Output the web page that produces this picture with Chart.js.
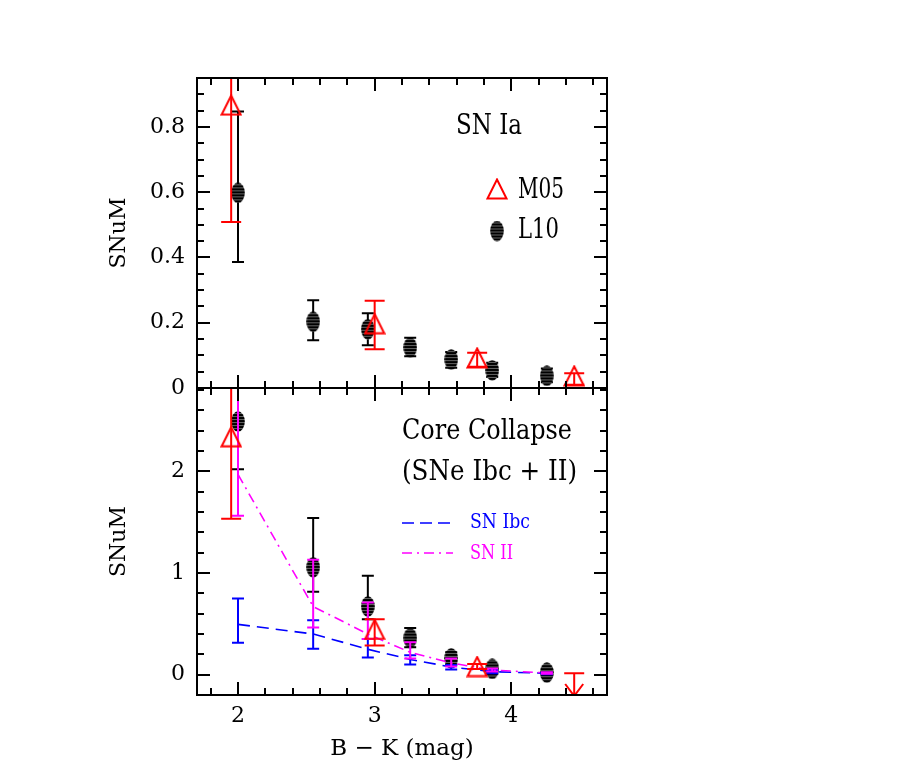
<!DOCTYPE html>
<html>
<head>
<meta charset="utf-8">
<script src="https://cdn.jsdelivr.net/npm/chart.js@4.4.0/dist/chart.umd.min.js"></script>
<style>
  html, body { margin: 0; padding: 0; background: #fff; }
  #wrap { position: relative; width: 911px; height: 771px; }
  canvas { position: absolute; left: 0; }
</style>
</head>
<body>
<div id="wrap">
  <canvas id="topPanel" width="911" height="402" style="top:0;width:911px;height:402px"></canvas>
  <canvas id="bottomPanel" width="911" height="383" style="top:388px;width:911px;height:383px"></canvas>
</div>
<script>
// B - K colour of the bins
const l10X = [2.0, 2.55, 2.95, 3.26, 3.56, 3.86, 4.26];
const m05X = [1.95, 3.0, 3.75, 4.46];

// SN Ia rates (SNuM)
const iaL10 = [0.598, 0.203, 0.18, 0.124, 0.087, 0.054, 0.037];
const iaL10Lo = [0.386, 0.146, 0.131, 0.097, 0.062, 0.034, 0.018];
const iaL10Hi = [0.847, 0.269, 0.229, 0.154, 0.11, 0.077, 0.06];
const iaM05 = [0.867, 0.197, 0.092, 0.037];
const iaM05Lo = [0.509, 0.119, 0.065, 0.01];
const iaM05Hi = [1.22, 0.267, 0.108, 0.045];

// core collapse rates (SNuM)
const ccL10 = [2.49, 1.056, 0.67, 0.36, 0.16, 0.056, 0.02];
const ccL10Lo = [2.02, 0.815, 0.545, 0.27, 0.1, 0.01, -0.02];
const ccL10Hi = [2.97, 1.54, 0.973, 0.46, 0.22, 0.1, 0.06];
const ccM05X = [1.95, 3.0, 3.75];
const ccM05 = [2.34, 0.445, 0.08];
const ccM05Lo = [1.535, 0.287, 0.055];
const ccM05Hi = [3.15, 0.545, 0.105];
const ccLimitX = [4.46];
const ccLimit = [0.015];
const ccLimitLo = [-0.21];

const ibc = [0.495, 0.40, 0.25, 0.15, 0.075, 0.03, 0.013];
const ibcLo = [0.314, 0.255, 0.17, 0.10, 0.05, 0.015, 0.005];
const ibcHi = [0.75, 0.535, 0.35, 0.19, 0.095, 0.045, 0.02];
const snII = [1.97, 0.67, 0.40, 0.22, 0.115, 0.045, 0.017];
const snIILo = [1.564, 0.465, 0.35, 0.16, 0.08, 0.03, 0.01];
const snIIHi = [3.0, 1.13, 0.71, 0.32, 0.16, 0.06, 0.025];

// ticks
const xTicks = [2, 3, 4];
const xLabels = ['2', '3', '4'];
const iaYTicks = [0, 0.2, 0.4, 0.6, 0.8];
const iaYLabels = ['0', '0.2', '0.4', '0.6', '0.8'];
const ccYTicks = [0, 1, 2];
const ccYLabels = ['0', '1', '2'];

const FONT = "'DejaVu Serif', serif";
const RED = '#ff0000', BLUE = '#0000ff', MAGENTA = '#ff00ff';

function pts(xs, ys) { return xs.map((x, i) => ({ x: x, y: ys[i] })); }

// marker images
function triangleImg() {
  const c = document.createElement('canvas');
  c.width = 22; c.height = 22;
  const g = c.getContext('2d');
  g.strokeStyle = RED; g.lineWidth = 2;
  g.beginPath();
  g.moveTo(11, 1.5); g.lineTo(20.5, 20.5); g.lineTo(1.5, 20.5); g.closePath();
  g.stroke();
  return c;
}
function ellipseImg() {
  const c = document.createElement('canvas');
  c.width = 14; c.height = 21;
  const g = c.getContext('2d');
  g.fillStyle = '#000';
  g.beginPath();
  g.ellipse(7, 10.5, 6.8, 10.3, 0, 0, Math.PI * 2);
  g.fill();
  g.globalCompositeOperation = 'source-atop';
  g.strokeStyle = 'rgba(255,255,255,0.4)';
  g.lineWidth = 1;
  for (let y = 2.5; y < 21; y += 3) {
    g.beginPath(); g.moveTo(0, y); g.lineTo(14, y); g.stroke();
  }
  return c;
}
const tri = triangleImg();
const ell = ellipseImg();

// vertical error bars, drawn under each dataset's markers
const errorBars = {
  id: 'errorBars',
  beforeDatasetDraw(chart, args) {
    const ds = chart.data.datasets[args.index];
    if (!ds.errLo) return;
    const ys = chart.scales.y;
    const a = chart.chartArea;
    const ctx = chart.ctx;
    ctx.save();
    ctx.beginPath();
    ctx.rect(a.left, a.top, a.right - a.left, a.bottom - a.top);
    ctx.clip();
    ctx.strokeStyle = ds.borderColor;
    ctx.lineWidth = 2;
    ctx.setLineDash([]);
    args.meta.data.forEach((pt, i) => {
      const x = pt.x;
      const lo = ys.getPixelForValue(ds.errLo[i]);
      const hi = ys.getPixelForValue(ds.errHi[i]);
      const c = ds.capHalf;
      ctx.beginPath();
      ctx.moveTo(x, lo); ctx.lineTo(x, hi);
      ctx.moveTo(x - c, hi); ctx.lineTo(x + c, hi);
      if (ds.arrow) {
        ctx.moveTo(x - 9, lo - 12); ctx.lineTo(x, lo); ctx.lineTo(x + 9, lo - 12);
      } else {
        ctx.moveTo(x - c, lo); ctx.lineTo(x + c, lo);
      }
      ctx.stroke();
    });
    ctx.restore();
  }
};

// box with inward ticks on all four sides
const frameTicks = {
  id: 'frameTicks',
  afterDraw(chart, args, o) {
    const ctx = chart.ctx, a = chart.chartArea;
    const xs = chart.scales.x, ys = chart.scales.y;
    ctx.save();
    ctx.strokeStyle = '#000';
    ctx.lineWidth = 2;
    ctx.strokeRect(a.left, a.top, a.right - a.left, a.bottom - a.top);
    ctx.beginPath();
    for (let v = Math.ceil(xs.min / o.xMinor - 1e-6) * o.xMinor; v <= xs.max + 1e-6; v += o.xMinor) {
      const major = Math.abs(v / o.xMajor - Math.round(v / o.xMajor)) < 1e-6;
      const len = major ? 13 : 7;
      const px = Math.round(xs.getPixelForValue(v));
      ctx.moveTo(px, a.bottom); ctx.lineTo(px, a.bottom - len);
      ctx.moveTo(px, a.top); ctx.lineTo(px, a.top + len);
    }
    for (let v = Math.ceil(ys.min / o.yMinor - 1e-6) * o.yMinor; v <= ys.max + 1e-6; v += o.yMinor) {
      const major = Math.abs(v / o.yMajor - Math.round(v / o.yMajor)) < 1e-6;
      const len = major ? 13 : 7;
      const py = Math.round(ys.getPixelForValue(v));
      ctx.moveTo(a.left, py); ctx.lineTo(a.left + len, py);
      ctx.moveTo(a.right, py); ctx.lineTo(a.right - len, py);
    }
    ctx.stroke();
    ctx.restore();
  }
};

// in-panel labels and key
const panelKey = {
  id: 'panelKey',
  afterDraw(chart, args, o) {
    const ctx = chart.ctx;
    ctx.save();
    ctx.textBaseline = 'middle';
    ctx.textAlign = 'left';
    (o.items || []).forEach(it => {
      if (it.img) ctx.drawImage(it.img, it.x - it.img.width / 2, it.y - it.img.height / 2);
      if (it.line) {
        ctx.strokeStyle = it.color; ctx.lineWidth = 1.6;
        ctx.setLineDash(it.dash);
        ctx.beginPath(); ctx.moveTo(it.x, it.y); ctx.lineTo(it.x + it.line, it.y); ctx.stroke();
        ctx.setLineDash([]);
      }
      if (it.text) {
        ctx.fillStyle = it.color || '#000';
        ctx.font = it.font;
        ctx.fillText(it.text, it.x, it.y, it.maxW);
      }
    });
    ctx.restore();
  }
};

// fixed axis sizes, no label overhang padding
function fixSize(w, h) {
  return s => {
    if (w !== null) s.width = w;
    if (h !== null) s.height = h;
    s.paddingTop = 0; s.paddingBottom = 0; s.paddingLeft = 0; s.paddingRight = 0;
  };
}

const baseX = {
  type: 'linear', min: 1.7, max: 4.7,
  grid: { display: false, drawTicks: false },
  border: { display: false }
};

new Chart(document.getElementById('topPanel'), {
  type: 'scatter',
  data: {
    datasets: [
      {
        label: 'M05', data: pts(m05X, iaM05), order: 0,
        errLo: iaM05Lo, errHi: iaM05Hi, capHalf: 10,
        borderColor: RED, pointStyle: tri, pointRadius: 10
      },
      {
        label: 'L10', data: pts(l10X, iaL10), order: 1,
        errLo: iaL10Lo, errHi: iaL10Hi, capHalf: 6,
        borderColor: '#000', pointStyle: ell, pointRadius: 8
      }
    ]
  },
  options: {
    responsive: false, animation: false, devicePixelRatio: 1,
    layout: { autoPadding: false, padding: { left: 102, right: 304, top: 78, bottom: 14 } },
    scales: {
      x: Object.assign({}, baseX, { display: false, afterFit: fixSize(null, 0) }),
      y: {
        type: 'linear', min: 0, max: 0.95,
        grid: { display: false, drawTicks: false },
        border: { display: false },
        afterBuildTicks: s => { s.ticks = iaYTicks.map(v => ({ value: v })); },
        afterFit: fixSize(95, null),
        ticks: {
          padding: 12, color: '#000', font: { family: FONT, size: 22 },
          callback: (v, i) => iaYLabels[i]
        },
        title: { display: true, text: 'SNuM', color: '#000', font: { family: FONT, size: 22 } }
      }
    },
    plugins: {
      legend: { display: false },
      tooltip: { enabled: false },
      frameTicks: { xMinor: 0.2, xMajor: 1, yMinor: 0.05, yMajor: 0.2 },
      panelKey: {
        items: [
          { text: 'SN Ia', x: 456, y: 127, font: '27px ' + FONT, maxW: 66 },
          { img: tri, x: 497, y: 189 },
          { text: 'M05', x: 518, y: 191, font: '27px ' + FONT, maxW: 46 },
          { img: ell, x: 497, y: 231 },
          { text: 'L10', x: 518, y: 231, font: '27px ' + FONT, maxW: 41 }
        ]
      }
    }
  },
  plugins: [errorBars, frameTicks, panelKey]
});

new Chart(document.getElementById('bottomPanel'), {
  type: 'scatter',
  data: {
    datasets: [
      {
        label: 'M05', data: pts(ccM05X, ccM05), order: 0,
        errLo: ccM05Lo, errHi: ccM05Hi, capHalf: 10,
        borderColor: RED, pointStyle: tri, pointRadius: 10
      },
      {
        label: 'M05 limit', data: pts(ccLimitX, ccLimit), order: 0,
        errLo: ccLimitLo, errHi: ccLimit, capHalf: 10, arrow: true,
        borderColor: RED, pointRadius: 0
      },
      {
        label: 'SN II', data: pts(l10X, snII), order: 1,
        errLo: snIILo, errHi: snIIHi, capHalf: 6,
        showLine: true, borderColor: MAGENTA, borderWidth: 1.6,
        borderDash: [10, 5, 2, 5], pointRadius: 0
      },
      {
        label: 'SN Ibc', data: pts(l10X, ibc), order: 2,
        errLo: ibcLo, errHi: ibcHi, capHalf: 6,
        showLine: true, borderColor: BLUE, borderWidth: 1.6,
        borderDash: [12, 7], pointRadius: 0
      },
      {
        label: 'L10', data: pts(l10X, ccL10), order: 3,
        errLo: ccL10Lo, errHi: ccL10Hi, capHalf: 6,
        borderColor: '#000', pointStyle: ell, pointRadius: 8
      }
    ]
  },
  options: {
    responsive: false, animation: false, devicePixelRatio: 1,
    layout: { autoPadding: false, padding: { left: 102, right: 304, top: 0, bottom: 0 } },
    scales: {
      x: Object.assign({}, baseX, {
        afterBuildTicks: s => { s.ticks = xTicks.map(v => ({ value: v })); },
        afterFit: fixSize(null, 76),
        ticks: {
          padding: 8, color: '#000', maxRotation: 0, font: { family: FONT, size: 22 },
          callback: (v, i) => xLabels[i]
        },
        title: {
          display: true, text: 'B − K (mag)', color: '#000',
          font: { family: FONT, size: 23 }, padding: { top: 4, bottom: 8 }
        }
      }),
      y: {
        type: 'linear', min: -0.2, max: 2.82,
        grid: { display: false, drawTicks: false },
        border: { display: false },
        afterBuildTicks: s => { s.ticks = ccYTicks.map(v => ({ value: v })); },
        afterFit: fixSize(95, null),
        ticks: {
          padding: 12, color: '#000', font: { family: FONT, size: 22 },
          callback: (v, i) => ccYLabels[i]
        },
        title: { display: true, text: 'SNuM', color: '#000', font: { family: FONT, size: 22 } }
      }
    },
    plugins: {
      legend: { display: false },
      tooltip: { enabled: false },
      frameTicks: { xMinor: 0.2, xMajor: 1, yMinor: 0.2, yMajor: 1 },
      panelKey: {
        items: [
          { text: 'Core Collapse', x: 402, y: 44, font: '27px ' + FONT, maxW: 170 },
          { text: '(SNe Ibc + II)', x: 402, y: 85, font: '27px ' + FONT, maxW: 175 },
          { line: 48, x: 402, y: 135, color: BLUE, dash: [12, 6] },
          { text: 'SN Ibc', x: 470, y: 135, color: BLUE, font: '21px ' + FONT, maxW: 60 },
          { line: 51, x: 402, y: 165, color: MAGENTA, dash: [10, 5, 2, 5] },
          { text: 'SN II', x: 470, y: 166, color: MAGENTA, font: '21px ' + FONT, maxW: 43 }
        ]
      }
    }
  },
  plugins: [errorBars, frameTicks, panelKey]
});
</script>
</body>
</html>
